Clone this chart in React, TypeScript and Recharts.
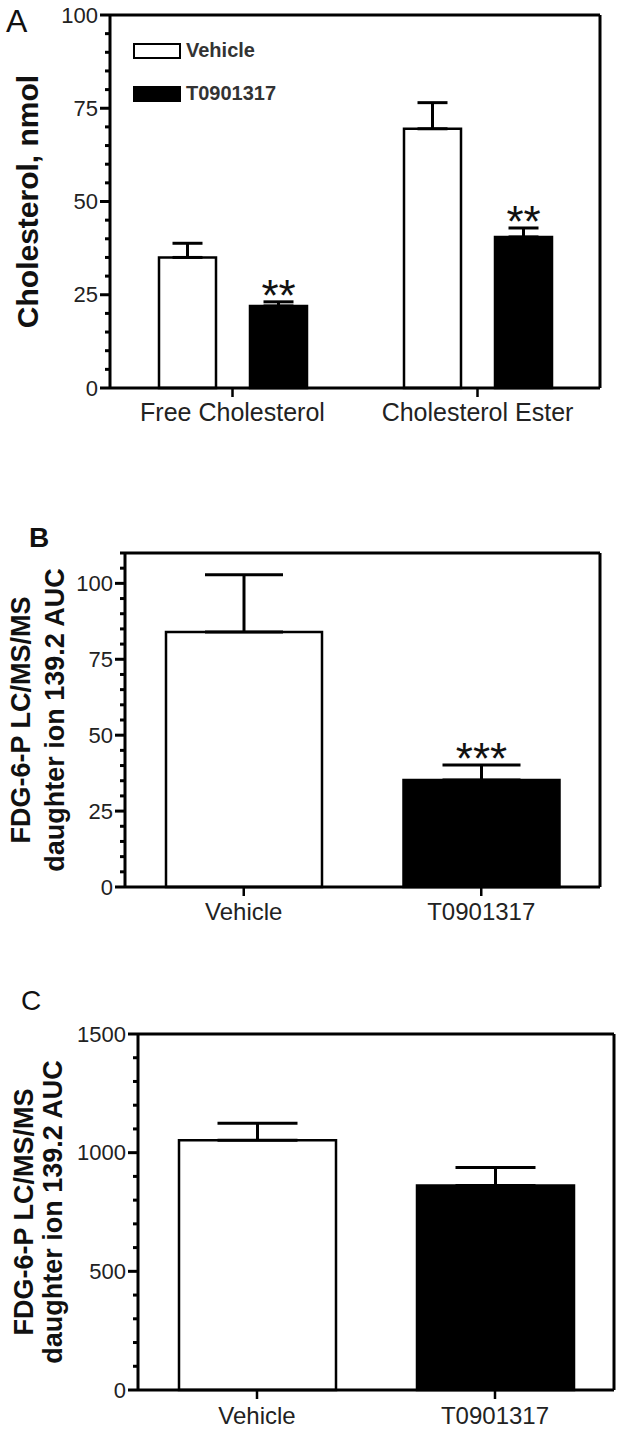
import React from "react";
import { BarChart, Bar, XAxis, YAxis, ErrorBar, Legend, LabelList, Cell } from "recharts";

const FONT = "Arial, 'Liberation Sans', Helvetica, sans-serif";

// Panel A: cholesterol, nmol
const A_GROUPS = ["Free Cholesterol", "Cholesterol Ester"];
const A_VEHICLE = [35, 69.5];
const A_VEHICLE_SEM = [3.8, 7];
const A_T0901317 = [22, 40.5];
const A_T0901317_SEM = [1.1, 2.4];
const A_SIG = ["**", "**"];
const A_MAJOR = [0, 25, 50, 75, 100];
const A_TICKS = [0, 5, 10, 15, 20, 25, 30, 35, 40, 45, 50, 55, 60, 65, 70, 75, 80, 85, 90, 95, 100];

// Panel B: FDG-6-P
const B_GROUPS = ["Vehicle", "T0901317"];
const B_VALUES = [84, 35.2];
const B_SEM = [18.8, 5];
const B_SIG = ["", "***"];
const B_MAJOR = [0, 25, 50, 75, 100];
const B_TICKS = [0, 5, 10, 15, 20, 25, 30, 35, 40, 45, 50, 55, 60, 65, 70, 75, 80, 85, 90, 95, 100, 105, 110];

// Panel C: FDG-6-P
const C_GROUPS = ["Vehicle", "T0901317"];
const C_VALUES = [1052, 862];
const C_SEM = [72, 76];
const C_MAJOR = [0, 500, 1000, 1500];
const C_TICKS = [0, 100, 200, 300, 400, 500, 600, 700, 800, 900, 1000, 1100, 1200, 1300, 1400, 1500];

const FILLS = ["#ffffff", "#000000"];
const LEGEND_ORDER = ["Vehicle", "T0901317"];

const dataA = A_GROUPS.map((name, i) => ({
  name,
  vehicle: A_VEHICLE[i],
  vehicleErr: [0, A_VEHICLE_SEM[i]],
  t: A_T0901317[i],
  tErr: [0, A_T0901317_SEM[i]],
  sig: A_SIG[i],
}));

const dataB = B_GROUPS.map((name, i) => ({ name, value: B_VALUES[i], err: [0, B_SEM[i]], sig: B_SIG[i] }));
const dataC = C_GROUPS.map((name, i) => ({ name, value: C_VALUES[i], err: [0, C_SEM[i]] }));

const frame = { stroke: "#000", strokeWidth: 3 };

// y ticks: long mark + label for majors, short mark for minors (the 0 mark extends the x axis leftwards)
function YTick(props: any) {
  const { x, y, payload, major } = props;
  const isMajor = major.includes(payload.value);
  const len = isMajor ? 10 : 5;
  return (
    <g>
      <rect x={x - len} y={y - 1.5} width={len} height={3} fill="#000" />
      {isMajor && (
        <text x={x - 12} y={y} dy="0.35em" textAnchor="end" fontSize={22} fill="#222" fontFamily={FONT}>
          {payload.value}
        </text>
      )}
    </g>
  );
}

function XTick(props: any) {
  const { x, y, payload, gap, fontSize } = props;
  return (
    <g>
      <rect x={x - 1.25} y={y} width={2.5} height={9} fill="#000" />
      <text x={x} y={y + 9 + gap} dy="0.71em" textAnchor="middle" fontSize={fontSize} fill="#222" fontFamily={FONT}>
        {payload.value}
      </text>
    </g>
  );
}

function yTitle(lines: string[], xs: number[], fontSize: number) {
  return (p: any) => {
    const vb = p.viewBox || {};
    const cy = vb.y + vb.height / 2;
    return (
      <g>
        {lines.map((line, i) => (
          <text
            key={i}
            x={xs[i]}
            y={cy}
            transform={`rotate(-90, ${xs[i]}, ${cy})`}
            textAnchor="middle"
            dominantBaseline="central"
            fontSize={fontSize}
            fontWeight="bold"
            fontFamily={FONT}
            fill="#111"
          >
            {line}
          </text>
        ))}
      </g>
    );
  };
}

// stars sit just above the error bar cap of the bar
function starLabel(rows: any[], valueKey: string, errKey: string) {
  return (p: any) => {
    const vb = p.viewBox && p.viewBox.width !== undefined ? p.viewBox : p;
    const { x, y, width, height } = vb;
    const row = rows[p.index];
    if (!row || !row.sig) return null;
    const ppu = height / row[valueKey];
    const capY = y - row[errKey][1] * ppu;
    return (
      <text x={x + width / 2} y={capY + 9} textAnchor="middle" fontSize={44} fontFamily={FONT} fill="#111">
        {row.sig}
      </text>
    );
  };
}

function BoxLegend({ payload }: any) {
  const items = [...(payload || [])].sort(
    (a: any, b: any) => LEGEND_ORDER.indexOf(a.value) - LEGEND_ORDER.indexOf(b.value)
  );
  return (
    <div>
      {items.map((e: any, i: number) => (
        <div key={i} style={{ display: "flex", alignItems: "center", height: 17, marginBottom: 26 }}>
          <span
            style={{
              display: "inline-block",
              width: 44,
              height: 12,
              border: "2.5px solid #000",
              background: e.payload?.fill ?? e.color,
            }}
          />
          <span style={{ marginLeft: 5, fontWeight: "bold", fontSize: 20, color: "#333", fontFamily: FONT }}>
            {e.value}
          </span>
        </div>
      ))}
    </div>
  );
}

function yAxis(domain: number[], ticks: number[], major: number[], width: number, title: any) {
  return (
    <YAxis
      domain={domain}
      ticks={ticks}
      interval={0}
      width={width}
      axisLine={frame}
      tickLine={false}
      tickSize={0}
      tickMargin={0}
      tick={(p: any) => <YTick {...p} major={major} />}
      label={{ content: title }}
    />
  );
}

function xAxis(height: number, gap: number, fontSize: number) {
  return (
    <XAxis
      dataKey="name"
      height={height}
      interval={0}
      axisLine={frame}
      tickLine={false}
      tickSize={0}
      tickMargin={0}
      tick={(p: any) => <XTick {...p} gap={gap} fontSize={fontSize} />}
    />
  );
}

function PanelA() {
  return (
    <BarChart width={623} height={440} data={dataA} margin={{ top: 14, right: 22, bottom: 0, left: 0 }} barSize={57} barGap={34}>
      {xAxis(52, 6, 25)}
      <XAxis xAxisId="top" orientation="top" dataKey="name" height={1} tick={false} tickLine={false} axisLine={frame} />
      {yAxis([0, 100], A_TICKS, A_MAJOR, 110, yTitle(["Cholesterol, nmol"], [27], 30))}
      <YAxis yAxisId="right" orientation="right" domain={[0, 100]} width={1} tick={false} tickLine={false} axisLine={frame} />
      <Legend
        layout="horizontal"
        verticalAlign="middle"
        align="center"
        content={<BoxLegend />}
        wrapperStyle={{ left: 133, top: 42, width: 200 }}
      />
      <Bar dataKey="vehicle" name="Vehicle" fill="#ffffff" stroke="#000" strokeWidth={2.5} isAnimationActive={false}>
        <ErrorBar dataKey="vehicleErr" direction="y" width={15} stroke="#000" strokeWidth={3} />
      </Bar>
      <Bar dataKey="t" name="T0901317" fill="#000000" stroke="#000" strokeWidth={2.5} isAnimationActive={false}>
        <ErrorBar dataKey="tErr" direction="y" width={15} stroke="#000" strokeWidth={3} />
        <LabelList dataKey="sig" content={starLabel(dataA, "t", "tErr")} />
      </Bar>
    </BarChart>
  );
}

function PanelB() {
  return (
    <BarChart width={623} height={480} data={dataB} margin={{ top: 92, right: 22, bottom: 0, left: 0 }} barSize={156}>
      {xAxis(53, 7, 24)}
      <XAxis xAxisId="top" orientation="top" dataKey="name" height={1} tick={false} tickLine={false} axisLine={frame} />
      {yAxis([0, 110], B_TICKS, B_MAJOR, 125, yTitle(["FDG-6-P LC/MS/MS", "daughter ion 139.2 AUC"], [21, 55], 27))}
      <YAxis yAxisId="right" orientation="right" domain={[0, 110]} width={1} tick={false} tickLine={false} axisLine={frame} />
      <Bar dataKey="value" stroke="#000" strokeWidth={2.5} isAnimationActive={false}>
        {dataB.map((d, i) => (
          <Cell key={d.name} fill={FILLS[i]} />
        ))}
        <ErrorBar dataKey="err" direction="y" width={39} stroke="#000" strokeWidth={3} />
        <LabelList dataKey="sig" content={starLabel(dataB, "value", "err")} />
      </Bar>
    </BarChart>
  );
}

function PanelC() {
  return (
    <BarChart width={623} height={495} data={dataC} margin={{ top: 93, right: 8, bottom: 0, left: 0 }} barSize={157}>
      {xAxis(45, 8, 24)}
      <XAxis xAxisId="top" orientation="top" dataKey="name" height={1} tick={false} tickLine={false} axisLine={frame} />
      {yAxis([0, 1500], C_TICKS, C_MAJOR, 138, yTitle(["FDG-6-P LC/MS/MS", "daughter ion 139.2 AUC"], [24, 53], 27))}
      <YAxis yAxisId="right" orientation="right" domain={[0, 1500]} width={1} tick={false} tickLine={false} axisLine={frame} />
      <Bar dataKey="value" stroke="#000" strokeWidth={2.5} isAnimationActive={false}>
        {dataC.map((d, i) => (
          <Cell key={d.name} fill={FILLS[i]} />
        ))}
        <ErrorBar dataKey="err" direction="y" width={40} stroke="#000" strokeWidth={3} />
      </Bar>
    </BarChart>
  );
}

export default function App() {
  return (
    <div style={{ position: "absolute", left: 0, top: 0, width: 623, height: 1435, background: "#fff", fontFamily: FONT }}>
      <div style={{ position: "absolute", left: 0, top: 0 }}>
        <PanelA />
      </div>
      <div style={{ position: "absolute", left: 0, top: 460 }}>
        <PanelB />
      </div>
      <div style={{ position: "absolute", left: 0, top: 940 }}>
        <PanelC />
      </div>
      <svg width={623} height={1435} style={{ position: "absolute", left: 0, top: 0, pointerEvents: "none" }}>
        <text x={6} y={32} fontSize={32} fontFamily={FONT} fill="#111">A</text>
        <text x={29} y={547} fontSize={28} fontWeight="bold" fontFamily={FONT} fill="#111">B</text>
        <text x={21} y={1010} fontSize={28} fontFamily={FONT} fill="#111">C</text>
      </svg>
    </div>
  );
}
